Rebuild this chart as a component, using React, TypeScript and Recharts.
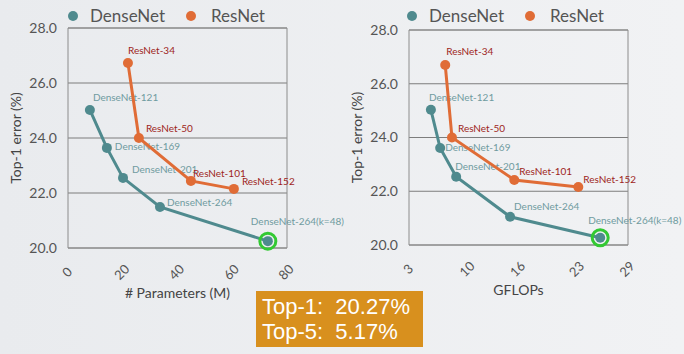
import React from "react";
import { ScatterChart, Scatter, XAxis, YAxis, CartesianGrid, ReferenceArea, ReferenceDot } from "recharts";

const denseNames = ["DenseNet-121", "DenseNet-169", "DenseNet-201", "DenseNet-264", "DenseNet-264(k=48)"];
const denseParams = [8.0, 14.2, 20.1, 33.6, 73.0];
const denseErrParams = [25.02, 23.64, 22.55, 21.49, 20.25];
const denseFlops = [5.6, 6.7, 8.6, 15.0, 25.7];
const denseErrFlops = [25.03, 23.61, 22.54, 21.05, 20.27];

const resNames = ["ResNet-34", "ResNet-50", "ResNet-101", "ResNet-152"];
const resParams = [21.9, 25.9, 44.9, 60.6];
const resErrParams = [26.73, 24.0, 22.44, 22.15];
const resFlops = [7.3, 8.1, 15.5, 23.1];
const resErrFlops = [26.7, 24.0, 22.42, 22.16];

const yTicks = [20, 22, 24, 26, 28];
const paramTicks = [0, 20, 40, 60, 80];
const flopTicks = [3, 10, 16, 23, 29];

// label offsets (px) per point, purely cosmetic
const denseOffParams = [[3, -11], [8, 0], [9, -7], [7, -4], [-17, -19]];
const resOffParams = [[0, -11], [7, -9], [2, -6], [8, -6]];
const denseOffFlops = [[-2, -11], [5, 0], [-1, -9], [4, -9], [-12, -16]];
const resOffFlops = [[1, -12], [6, -8], [5, -7], [5, -6]];

const DENSE = "#4f8a8e";
const RES = "#e06c36";
const FONT = "Lato, 'Open Sans', sans-serif";

const rows = (names: string[], xs: number[], ys: number[]) =>
  names.map((name, i) => ({ name, x: xs[i], y: ys[i] }));

const makeShape = (names: string[], offs: number[][], color: string, labelColor: string) => (p: any) => {
  const i = names.indexOf(p.payload?.name);
  const [dx, dy] = offs[i] || [0, 0];
  return (
    <g>
      <circle cx={p.cx} cy={p.cy} r={5} fill={color} />
      <text x={p.cx + dx} y={p.cy + dy} dominantBaseline="middle" fontSize={10} fill={labelColor} fontFamily={FONT}>
        {p.payload?.name}
      </text>
    </g>
  );
};

const XTick = (p: any) => (
  <g transform={`translate(${p.x},${p.y + 17}) rotate(-45)`}>
    <text x={0} y={0} textAnchor="middle" dominantBaseline="middle" fontSize={13} fill="#555" fontFamily={FONT}>
      {p.payload.value}
    </text>
  </g>
);

interface PanelProps {
  left: number;
  top: number;
  bottom: number;
  xs: { dense: number[]; denseErr: number[]; res: number[]; resErr: number[] };
  domain: [number, number];
  ticks: number[];
  xLabel: string;
  offs: { dense: number[][]; res: number[][] };
}

function Panel({ left, top, bottom, xs, domain, ticks, xLabel, offs }: PanelProps) {
  const dense = rows(denseNames, xs.dense, xs.denseErr);
  const res = rows(resNames, xs.res, xs.resErr);
  const k48 = dense[dense.length - 1];
  return (
    <div style={{ position: "absolute", left, top: 0 }}>
      <ScatterChart width={400} height={354} margin={{ top, right: 113, bottom, left: 0 }}>
        <CartesianGrid vertical={false} stroke="#7d7d7d" strokeWidth={1} />
        <ReferenceArea x1={domain[0]} x2={domain[1]} y1={20} y2={28} fill="none" stroke="#8c8c8c" strokeWidth={1} />
        <XAxis
          type="number"
          dataKey="x"
          domain={domain}
          ticks={ticks}
          axisLine={false}
          tickLine={false}
          tick={<XTick />}
          height={58}
          label={(props: any) => {
            const vb = props.viewBox;
            return (
              <text x={vb.x + vb.width / 2} y={vb.y + 46} textAnchor="middle" dominantBaseline="middle" fontSize={14} fill="#444" fontFamily={FONT}>
                {xLabel}
              </text>
            );
          }}
        />
        <YAxis
          type="number"
          dataKey="y"
          domain={[20, 28]}
          ticks={yTicks}
          width={68}
          axisLine={false}
          tickLine={false}
          tickMargin={5}
          tickFormatter={(v: number) => v.toFixed(1)}
          tick={{ fontSize: 14, fill: "#555", fontFamily: FONT }}
          label={(props: any) => {
            const vb = props.viewBox;
            const cy = vb.y + vb.height / 2;
            return (
              <text x={17} y={cy} transform={`rotate(-90, 17, ${cy})`} textAnchor="middle" dominantBaseline="middle" fontSize={14} fill="#444" fontFamily={FONT}>
                Top-1 error (%)
              </text>
            );
          }}
        />
        <Scatter
          data={dense}
          line={{ stroke: DENSE, strokeWidth: 3 }}
          lineType="joint"
          fill={DENSE}
          shape={makeShape(denseNames, offs.dense, DENSE, "#6f9b9f")}
          isAnimationActive={false}
        />
        <Scatter
          data={res}
          line={{ stroke: RES, strokeWidth: 3 }}
          lineType="joint"
          fill={RES}
          shape={makeShape(resNames, offs.res, RES, "#9e1f1c")}
          isAnimationActive={false}
        />
        <ReferenceDot x={k48.x} y={k48.y} r={8} fill="none" stroke="#33c933" strokeWidth={3} />
      </ScatterChart>
    </div>
  );
}

function LegendRow({ left }: { left: number }) {
  const item = (color: string, text: string, x: number, tx: number) => (
    <>
      <span style={{ position: "absolute", left: x - 5, top: 11, width: 10, height: 10, borderRadius: 5, background: color }} />
      <span style={{ position: "absolute", left: tx, top: 4, fontSize: 17, color: "#555", fontFamily: FONT, lineHeight: "24px" }}>{text}</span>
    </>
  );
  return (
    <div style={{ position: "absolute", left, top: 0 }}>
      {item(DENSE, "DenseNet", 73, 90)}
      {item(RES, "ResNet", 191, 211)}
    </div>
  );
}

export default function App() {
  return (
    <div
      style={{
        position: "absolute",
        left: 0,
        top: 0,
        width: 684,
        height: 354,
        overflow: "hidden",
        background: "linear-gradient(to right, #e9ebee, #f1f2f4)",
      }}
    >
      <Panel
        left={0}
        top={28}
        bottom={48}
        xs={{ dense: denseParams, denseErr: denseErrParams, res: resParams, resErr: resErrParams }}
        domain={[0, 80]}
        ticks={paramTicks}
        xLabel="# Parameters (M)"
        offs={{ dense: denseOffParams, res: resOffParams }}
      />
      <Panel
        left={341}
        top={30}
        bottom={51}
        xs={{ dense: denseFlops, denseErr: denseErrFlops, res: resFlops, resErr: resErrFlops }}
        domain={[3, 29]}
        ticks={flopTicks}
        xLabel="GFLOPs"
        offs={{ dense: denseOffFlops, res: resOffFlops }}
      />
      <LegendRow left={0} />
      <LegendRow left={339} />
      <div
        style={{
          position: "absolute",
          left: 256,
          top: 291,
          width: 167,
          height: 56,
          background: "#d8901e",
          color: "#fff",
          fontFamily: "'Liberation Sans', Arial, sans-serif",
          fontSize: 22,
          lineHeight: "25px",
          padding: "3px 0 0 6px",
          boxSizing: "border-box",
          whiteSpace: "pre",
        }}
      >
        <div>Top-1:  20.27%</div>
        <div>Top-5:  5.17%</div>
      </div>
    </div>
  );
}
